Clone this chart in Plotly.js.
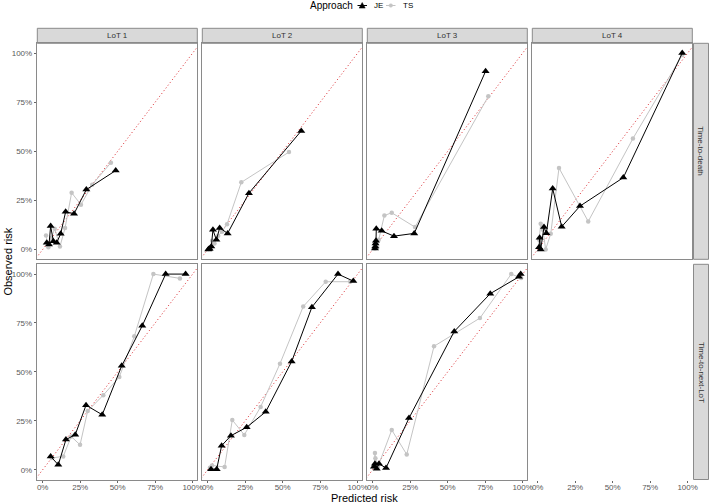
<!DOCTYPE html>
<html><head><meta charset="utf-8">
<script src="https://cdn.plot.ly/plotly-3.0.1.min.js"></script>
<style>html,body{margin:0;padding:0;background:#fff}#chart{width:709px;height:503px}</style>
</head><body><div id="chart"></div>
<script>
// ---- facets ----
const colLabels = ['LoT 1', 'LoT 2', 'LoT 3', 'LoT 4'];
const rowLabels = ['Time-to-death', 'Time-to-next-LoT'];
const seriesNames = ['JE', 'TS'];
const legendTitle = 'Approach';
const tickVals = [0, 25, 50, 75, 100];
const tickText = ['0%', '25%', '50%', '75%', '100%'];
const refLine = [-10, 110];

// ---- Time-to-death ----
const deathLot1JE_x = [2.7, 4.2, 5.3, 7.1, 9.3, 12.0, 15.3, 20.9, 29.1, 48.7];
const deathLot1JE_y = [3.4, 2.6, 11.9, 4.2, 3.4, 8.0, 19.2, 18.2, 30.5, 40.2];
const deathLot1TS_x = [2.2, 3.8, 5.8, 8.0, 11.5, 14.9, 19.3, 25.5, 33.0, 45.5];
const deathLot1TS_y = [7.1, 1.2, 6.0, 10.6, 1.5, 10.9, 28.9, 22.8, 33.0, 44.2];

const deathLot2JE_x = [0.4, 0.8, 1.3, 2.4, 3.5, 5.8, 8.0, 13.3, 27.5, 62.4];
const deathLot2JE_y = [0.0, 0.2, 0.4, 1.5, 10.0, 4.9, 11.0, 8.2, 28.7, 60.4];
const deathLot2TS_x = [0.6, 1.8, 3.0, 4.5, 7.0, 9.5, 12.9, 22.4, 54.2];
const deathLot2TS_y = [0.3, 0.5, 4.5, 3.0, 7.0, 9.0, 12.9, 34.2, 49.6];

const deathLot3JE_x = [1.5, 1.7, 1.9, 2.2, 2.4, 6.0, 14.2, 27.7, 75.3];
const deathLot3JE_y = [0.5, 1.5, 3.0, 4.5, 10.6, 9.5, 6.8, 8.2, 90.8];
const deathLot3TS_x = [1.5, 2.0, 3.0, 4.0, 7.8, 12.7, 28.2, 77.1];
const deathLot3TS_y = [0.5, 2.5, 1.0, 5.0, 17.3, 18.7, 11.4, 78.0];

const deathLot4JE_x = [0.9, 1.3, 2.0, 4.2, 5.8, 10.0, 16.0, 28.2, 57.1, 96.4];
const deathLot4JE_y = [1.2, 6.0, 0.0, 11.4, 8.3, 31.0, 11.6, 22.1, 36.6, 100.0];
const deathLot4TS_x = [1.0, 2.0, 3.5, 5.3, 8.7, 14.2, 33.7, 63.5, 96.4];
const deathLot4TS_y = [5.0, 13.1, 10.0, 0.0, 8.0, 41.5, 14.3, 56.5, 99.0];

// ---- Time-to-next-LoT ----
const nextLot1JE_x = [5.3, 10.4, 15.5, 21.7, 28.9, 39.7, 52.7, 66.4, 82.0, 95.3];
const nextLot1JE_y = [6.8, 2.5, 15.4, 17.9, 33.0, 28.1, 53.1, 73.6, 100.0, 100.0];
const nextLot1TS_x = [6.0, 13.7, 19.0, 24.9, 30.0, 40.4, 51.1, 61.1, 73.8, 91.5];
const nextLot1TS_y = [6.0, 6.8, 17.0, 12.7, 30.0, 38.1, 47.4, 68.2, 100.0, 97.8];

const nextLot2JE_x = [2.2, 6.0, 9.3, 15.5, 26.0, 38.7, 56.0, 69.5, 86.9, 97.1];
const nextLot2JE_y = [0.3, 0.3, 12.3, 17.4, 21.7, 29.6, 55.3, 83.1, 100.0, 96.4];
const nextLot2TS_x = [1.5, 2.9, 11.3, 16.4, 24.4, 35.3, 48.2, 63.7, 78.7, 95.0];
const nextLot2TS_y = [1.0, 2.2, 1.4, 25.4, 17.8, 32.1, 54.2, 83.4, 96.1, 96.1];

const nextLot3JE_x = [0.8, 1.5, 2.7, 4.2, 8.9, 24.2, 54.4, 78.4, 97.5, 98.7];
const nextLot3JE_y = [1.5, 3.0, 0.5, 3.0, 0.9, 26.4, 70.7, 90.0, 98.6, 100.0];
const nextLot3TS_x = [1.2, 1.5, 1.8, 3.5, 12.7, 22.7, 40.9, 71.5, 92.4, 99.0];
const nextLot3TS_y = [1.0, 8.5, 5.9, 1.5, 20.3, 7.8, 63.1, 77.5, 100.0, 98.0];

const panels = [
  [[deathLot1JE_x, deathLot1JE_y, deathLot1TS_x, deathLot1TS_y],
   [deathLot2JE_x, deathLot2JE_y, deathLot2TS_x, deathLot2TS_y],
   [deathLot3JE_x, deathLot3JE_y, deathLot3TS_x, deathLot3TS_y],
   [deathLot4JE_x, deathLot4JE_y, deathLot4TS_x, deathLot4TS_y]],
  [[nextLot1JE_x, nextLot1JE_y, nextLot1TS_x, nextLot1TS_y],
   [nextLot2JE_x, nextLot2JE_y, nextLot2TS_x, nextLot2TS_y],
   [nextLot3JE_x, nextLot3JE_y, nextLot3TS_x, nextLot3TS_y],
   null]
];

// ---- styles ----
const jeColor = '#000000';
const tsColor = '#c4c4c4';
const refColor = '#d9262b';
const borderCol = '#8a8a8a';
const stripFill = '#d9d9d9';

// ---- geometry (pixels) ----
const W = 709, H = 503;
const colX = [[37.3, 197.3], [202.3, 362.3], [367.3, 527.3], [532.3, 692.3]];
const rowY = [[43.3, 259.3], [264.3, 479.5]];
const fx = p => p / W;
const fy = p => 1 - p / H;

const traces = [];
const layout = {
  width: W, height: H,
  margin: {l: 0, r: 0, t: 0, b: 0},
  paper_bgcolor: '#fff', plot_bgcolor: '#fff',
  font: {family: 'Liberation Sans, Arial, sans-serif', color: '#000'},
  showlegend: false,
  shapes: [], annotations: []
};

for (let r = 0; r < 2; r++) {
  for (let c = 0; c < 4; c++) {
    const i = r * 4 + c + 1;
    const xa = 'xaxis' + (i === 1 ? '' : i);
    const ya = 'yaxis' + (i === 1 ? '' : i);
    const xr = 'x' + (i === 1 ? '' : i);
    const yr = 'y' + (i === 1 ? '' : i);
    const empty = panels[r][c] === null;
    layout[xa] = {
      domain: [fx(colX[c][0]), fx(colX[c][1])], anchor: yr,
      range: [-3.6, 103.1], fixedrange: true,
      showgrid: false, zeroline: false,
      showline: !empty, mirror: !empty, linecolor: borderCol, linewidth: 1,
      tickvals: tickVals, ticktext: tickText,
      showticklabels: r === 1,
      ticks: r === 1 ? 'outside' : '', ticklen: 2.5, tickwidth: 1, tickcolor: '#666',
      ticklabelstandoff: -3,
      tickfont: {size: 8, color: '#5a5a5a'}
    };
    layout[ya] = {
      domain: [fy(rowY[r][1]), fy(rowY[r][0])], anchor: xr,
      range: [-5.0, 105.0], fixedrange: true,
      showgrid: false, zeroline: false,
      showline: !empty, mirror: !empty, linecolor: borderCol, linewidth: 1,
      tickvals: tickVals, ticktext: tickText,
      showticklabels: c === 0,
      ticks: c === 0 ? 'outside' : '', ticklen: 2.5, tickwidth: 1, tickcolor: '#666',
      tickfont: {size: 8, color: '#5a5a5a'}
    };
    if (empty) {
      // keep an (invisible) trace so the subplot and its x-axis are drawn
      traces.push({x: [], y: [], xaxis: xr, yaxis: yr, mode: 'markers', showlegend: false, hoverinfo: 'skip'});
      continue;
    }
    const d = panels[r][c];
    traces.push({
      x: refLine, y: refLine, xaxis: xr, yaxis: yr, mode: 'lines',
      line: {color: refColor, width: 1, dash: '1px,2.5px'},
      hoverinfo: 'skip', showlegend: false
    });
    traces.push({
      x: d[2], y: d[3], xaxis: xr, yaxis: yr, mode: 'lines+markers', name: seriesNames[1],
      line: {color: tsColor, width: 1},
      marker: {symbol: 'circle', size: 4.5, color: tsColor}
    });
    traces.push({
      x: d[0], y: d[1], xaxis: xr, yaxis: yr, mode: 'lines+markers', name: seriesNames[0],
      line: {color: jeColor, width: 1},
      marker: {symbol: 'triangle-up', size: 7, color: jeColor}
    });
  }
}

// strips
for (let c = 0; c < 4; c++) {
  layout.shapes.push({type: 'rect', xref: 'paper', yref: 'paper',
    x0: fx(colX[c][0]), x1: fx(colX[c][1]), y0: fy(43.3), y1: fy(28.3),
    fillcolor: stripFill, line: {color: borderCol, width: 1}, layer: 'below'});
  layout.annotations.push({xref: 'paper', yref: 'paper', showarrow: false,
    x: fx((colX[c][0] + colX[c][1]) / 2), y: fy(35.8), xanchor: 'center', yanchor: 'middle',
    text: colLabels[c], font: {size: 8, color: '#333'}});
}
for (let r = 0; r < 2; r++) {
  layout.shapes.push({type: 'rect', xref: 'paper', yref: 'paper',
    x0: fx(693.5), x1: fx(708.5), y0: fy(rowY[r][1]), y1: fy(rowY[r][0]),
    fillcolor: stripFill, line: {color: borderCol, width: 1}, layer: 'below'});
  layout.annotations.push({xref: 'paper', yref: 'paper', showarrow: false,
    x: fx(701), y: fy((rowY[r][0] + rowY[r][1]) / 2), xanchor: 'center', yanchor: 'middle',
    textangle: 90, text: rowLabels[r], font: {size: 8, color: '#333'}});
}

// manual legend (compact keys as in the reference)
const legY = 5.5;
layout.annotations.push({xref: 'paper', yref: 'paper', showarrow: false,
  x: fx(308), y: fy(legY), xanchor: 'left', yanchor: 'middle',
  text: legendTitle, font: {size: 10, color: '#000'}});
// JE key
layout.shapes.push({type: 'line', xref: 'paper', yref: 'paper',
  x0: fx(357.5), x1: fx(367), y0: fy(legY), y1: fy(legY), line: {color: jeColor, width: 1}});
layout.shapes.push({type: 'path', xref: 'paper', yref: 'paper',
  path: `M ${fx(359.2)} ${fy(legY + 2.6)} L ${fx(365.2)} ${fy(legY + 2.6)} L ${fx(362.2)} ${fy(legY - 3)} Z`,
  fillcolor: jeColor, line: {color: jeColor, width: 0.5}});
layout.annotations.push({xref: 'paper', yref: 'paper', showarrow: false,
  x: fx(372), y: fy(legY), xanchor: 'left', yanchor: 'middle',
  text: seriesNames[0], font: {size: 8, color: '#000'}});
// TS key
layout.shapes.push({type: 'line', xref: 'paper', yref: 'paper',
  x0: fx(386), x1: fx(395.5), y0: fy(legY), y1: fy(legY), line: {color: tsColor, width: 1}});
layout.shapes.push({type: 'circle', xref: 'paper', yref: 'paper',
  x0: fx(389), x1: fx(392.6), y0: fy(legY + 1.8), y1: fy(legY - 1.8),
  fillcolor: tsColor, line: {color: tsColor, width: 0.5}});
layout.annotations.push({xref: 'paper', yref: 'paper', showarrow: false,
  x: fx(401), y: fy(legY), xanchor: 'left', yanchor: 'middle',
  text: seriesNames[1], font: {size: 8, color: '#000'}});

// axis titles
layout.annotations.push({xref: 'paper', yref: 'paper', showarrow: false,
  x: fx(8), y: fy(261.6), xanchor: 'center', yanchor: 'middle', textangle: -90,
  text: 'Observed risk', font: {size: 11, color: '#000'}});
layout.annotations.push({xref: 'paper', yref: 'paper', showarrow: false,
  x: fx(364.8), y: fy(498), xanchor: 'center', yanchor: 'middle',
  text: 'Predicted risk', font: {size: 11, color: '#000'}});

Plotly.newPlot('chart', traces, layout, {displayModeBar: false, staticPlot: true});
</script></body></html>
